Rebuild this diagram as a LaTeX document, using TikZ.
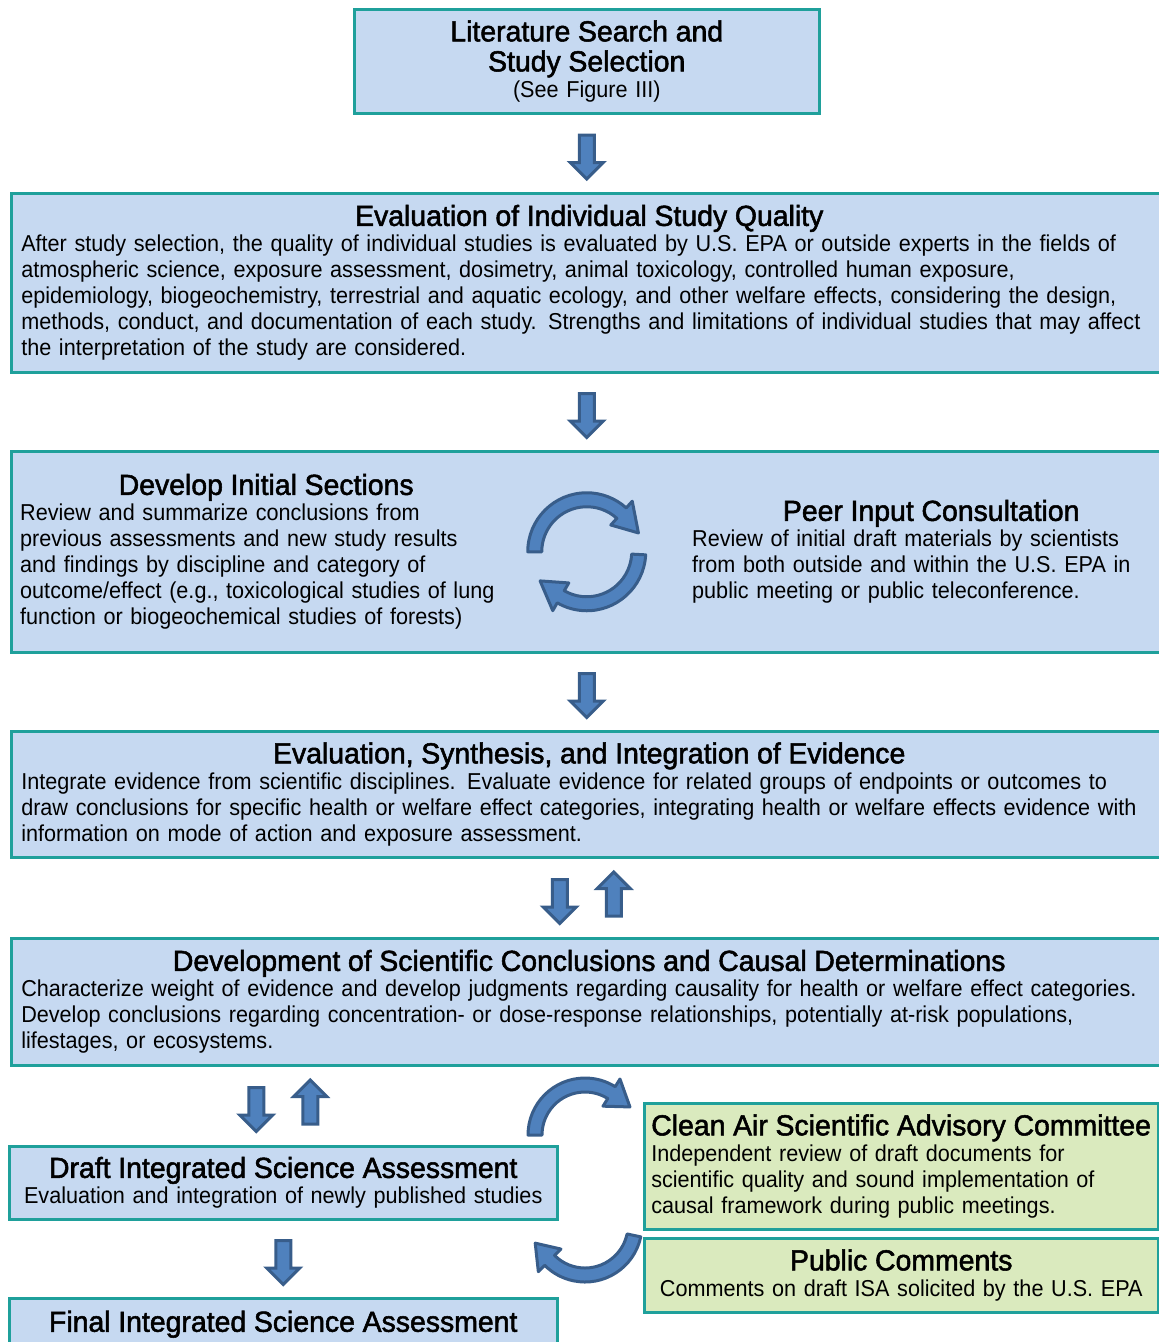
\documentclass[tikz,border=0pt]{standalone}
\usepackage{fontspec}
\setmainfont{Liberation Sans}[FakeStretch=0.94]
\newfontfamily\headfont{Liberation Sans}[FakeStretch=0.98, FakeBold=1.8]
\usepackage{xcolor}
\usetikzlibrary{shapes.arrows, positioning, calc}

\definecolor{BoxBlue}{RGB}{198,217,241}
\definecolor{BoxGreen}{RGB}{218,234,190}
\definecolor{BoxEdge}{RGB}{31,160,155}
\definecolor{ArrowFill}{RGB}{79,129,189}
\definecolor{ArrowEdge}{RGB}{56,93,138}

\newcommand{\bodyfont}{\fontsize{23}{26}\selectfont}
\newcommand{\titlefont}{\headfont\fontsize{29}{30}\selectfont}
\newcommand{\wideTitle}[1]{\makebox[1136pt]{\titlefont #1}\par}

% curved block arrow: centre, radius, start angle, head base angle, tip angle
\newcommand{\loopArrow}[5]{%
  \filldraw[curvearrow] ([shift={(#1)}]{#3}:{#2+7}) arc[start angle=#3, end angle=#4, radius=#2+7]
    -- ([shift={(#1)}]{#4}:{#2+16}) -- ([shift={(#1)}]{#5}:{#2+3})
    -- ([shift={(#1)}]{#4}:{#2-16}) -- ([shift={(#1)}]{#4}:{#2-7})
    arc[start angle=#4, end angle=#3, radius=#2-7] -- cycle;}

\begin{document}
\begin{tikzpicture}[x=1pt, y=1pt,
bluebox/.style={rectangle, draw=BoxEdge, line width=2.5pt, fill=BoxBlue,
  inner sep=0pt, anchor=north west, font=\bodyfont},
%
greenbox/.style={bluebox, fill=BoxGreen},
%
body/.style={font=\bodyfont, inner sep=0pt, align=left},
%
downarrow/.style={single arrow, shape border rotate=270, draw=ArrowEdge,
  fill=ArrowFill, line width=3pt, inner sep=6pt, minimum height=44pt,
  single arrow head extend=9pt},
%
uparrow/.style={downarrow, shape border rotate=90},
%
curvearrow/.style={draw=ArrowEdge, fill=ArrowFill, line width=3pt, line join=round}]

\clip (0,0) rectangle (1159,-1342);

\begin{scope}
  %%%%%%%%%%%%%%%%%%%%%%%%%%%%%%
  \node [bluebox, minimum width=465, minimum height=104, text width=445,
  align=center] (lit) at (353,-8)
  {{\titlefont Literature Search and\\Study Selection\par}(See Figure III)};
  %%%%%%%%%%%%%%%%%%%%%%%%%%%%%%
  \node [bluebox, minimum width=1170, minimum height=179, text width=1150,
  align=left] (evalq) at (10,-192)
  {\wideTitle{Evaluation of Individual Study Quality}
  After study selection, the quality of individual studies is evaluated by U.S. EPA or outside experts in the fields of\\
  atmospheric science, exposure assessment, dosimetry, animal toxicology, controlled human exposure,\\
  epidemiology, biogeochemistry, terrestrial and aquatic ecology, and other welfare effects, considering the design,\\
  methods, conduct, and documentation of each study. Strengths and limitations of individual studies that may affect\\
  the interpretation of the study are considered.};
  %%%%%%%%%%%%%%%%%%%%%%%%%%%%%%
  \node [bluebox, minimum width=1170, minimum height=201] (dev) at (10,-450) {};
  \node [body, text width=492, right=10pt of dev.west] (devtext)
  {{\centering\titlefont Develop Initial Sections\par}
  Review and summarize conclusions from\\
  previous assessments and new study results\\
  and findings by discipline and category of\\
  outcome/effect (e.g., toxicological studies of lung\\
  function or biogeochemical studies of forests)};
  \node [body, text width=478, right=682pt of dev.west] (peertext)
  {{\centering\titlefont Peer Input Consultation\par}
  Review of initial draft materials by scientists\\
  from both outside and within the U.S. EPA in\\
  public meeting or public teleconference.};
  %%%%%%%%%%%%%%%%%%%%%%%%%%%%%%
  \node [bluebox, minimum width=1170, minimum height=126, text width=1150,
  align=left] (synth) at (10,-730)
  {\wideTitle{Evaluation, Synthesis, and Integration of Evidence}
  Integrate evidence from scientific disciplines. Evaluate evidence for related groups of endpoints or outcomes to\\
  draw conclusions for specific health or welfare effect categories, integrating health or welfare effects evidence with\\
  information on mode of action and exposure assessment.};
  %%%%%%%%%%%%%%%%%%%%%%%%%%%%%%
  \node [bluebox, minimum width=1170, minimum height=127, text width=1150,
  align=left] (concl) at (10,-937)
  {\wideTitle{Development of Scientific Conclusions and Causal Determinations}
  Characterize weight of evidence and develop judgments regarding causality for health or welfare effect categories.\\
  Develop conclusions regarding concentration- or dose-response relationships, potentially at-risk populations,\\
  lifestages, or ecosystems.};
  %%%%%%%%%%%%%%%%%%%%%%%%%%%%%%
  \node [bluebox, minimum width=548, minimum height=73, text width=540,
  align=center] (draft) at (8,-1145)
  {{\titlefont Draft Integrated Science Assessment\par}
  Evaluation and integration of newly published studies};
  \node [bluebox, minimum width=548, minimum height=52, text width=540,
  align=center] (final) at (8,-1297)
  {\titlefont Final Integrated Science Assessment};
  %%%%%%%%%%%%%%%%%%%%%%%%%%%%%%
  \node [greenbox, minimum width=514, minimum height=126, text width=500,
  align=left] (casac) at (643,-1102)
  {{\titlefont Clean Air Scientific Advisory Committee\par}
  Independent review of draft documents for\\
  scientific quality and sound implementation of\\
  causal framework during public meetings.};
  \node [greenbox, minimum width=514, minimum height=74, text width=500,
  align=center] (public) at (643,-1237)
  {{\titlefont Public Comments\par}
  Comments on draft ISA solicited by the U.S. EPA};
\end{scope}

\begin{scope}
  \node [downarrow] (dn1) at ($(lit.south)!0.5!(lit.south|-evalq.north)$) {};
  \node [downarrow] (dn2) at ($(lit.south|-evalq.south)!0.5!(lit.south|-dev.north)$) {};
  \node [downarrow] (dn3) at ($(lit.south|-dev.south)!0.5!(lit.south|-synth.north)$) {};
  %%%%%%%%%%%%%%%%%%%%%%%%%%%%%%
  \node [downarrow, xshift=-27] (dn4) at ($(lit.south|-synth.south)!0.5!(lit.south|-concl.north)$) {};
  \node [uparrow, xshift=27] (up4) at ($(lit.south|-synth.south)!0.5!(lit.south|-concl.north)$) {};
  %%%%%%%%%%%%%%%%%%%%%%%%%%%%%%
  \node [downarrow, xshift=-27] (dn5) at ($(draft.north)!0.5!(draft.north|-concl.south)$) {};
  \node [uparrow, xshift=27] (up5) at ($(draft.north)!0.5!(draft.north|-concl.south)$) {};
  \node [downarrow] (dn6) at ($(draft.south)!0.5!(final.north)$) {};
  %%%%%%%%%%%%%%%%%%%%%%%%%%%%%%
  \coordinate (cycle) at (lit.south|-dev.center);
  \coordinate (loopup) at (585,-1135);
  \coordinate (loopdn) at (585,-1225);
  \loopArrow{cycle}{52}{180}{48}{20}
  \loopArrow{cycle}{52}{-3}{-120}{-148}
  \loopArrow{loopup}{50}{180}{58}{32}
  \loopArrow{loopdn}{50}{-12}{-135}{-160}
\end{scope}

\end{tikzpicture}
\end{document}
